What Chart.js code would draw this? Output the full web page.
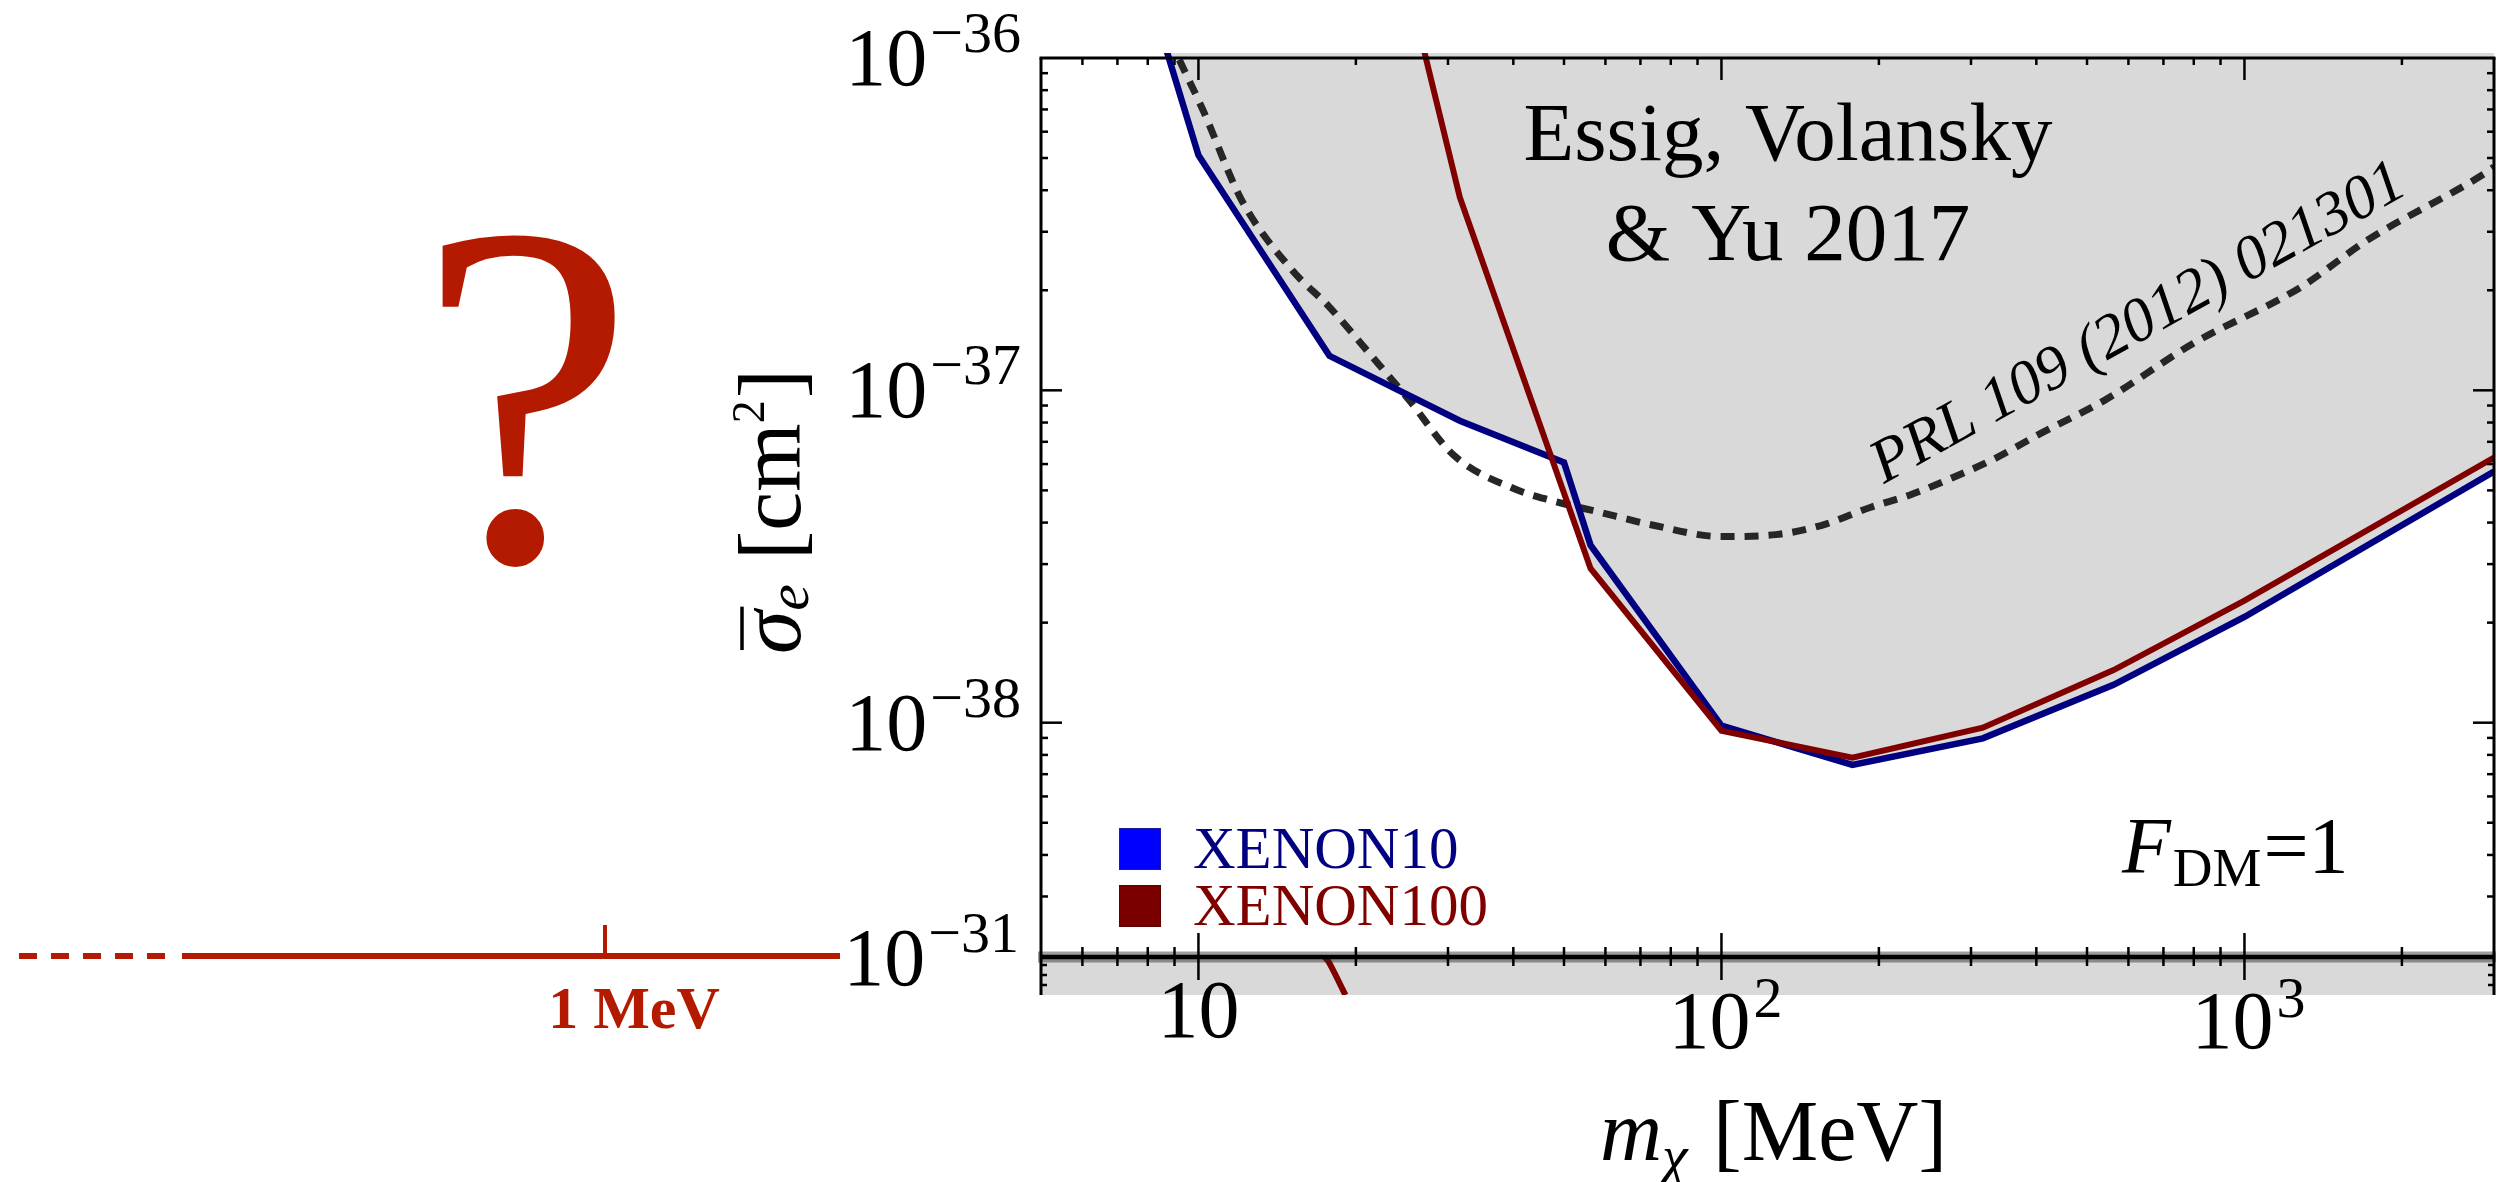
<!DOCTYPE html>
<html>
<head>
<meta charset="utf-8">
<script src="https://cdn.jsdelivr.net/npm/chart.js@4.4.1/dist/chart.umd.min.js"></script>
<style>
  html, body { margin: 0; padding: 0; background: #fff; }
  canvas { display: block; }
</style>
</head>
<body>
<canvas id="plot" width="2504" height="1182"></canvas>
<script>
// XENON10 limit: dark matter mass [MeV] vs cross section [cm^2]
const massXe10 = [5.62, 10, 17.8, 31.6, 50, 56.2, 100, 178, 316, 562, 1000, 3000];
const sigmaXe10 = [1.0e-35, 5.1e-37, 1.27e-37, 8.1e-38, 6.07e-38, 3.42e-38, 9.8e-39, 7.46e-39, 8.97e-39, 1.30e-38, 2.08e-38, 5.70e-38];

// XENON100 limit
const massXe100 = [17.8, 31.6, 56.2, 100, 178, 316, 562, 1000, 3000];
const sigmaXe100 = [1.55e-35, 3.81e-37, 2.91e-38, 9.46e-39, 7.85e-39, 9.66e-39, 1.44e-38, 2.33e-38, 6.28e-38];

// XENON100 piece visible in the lower 10^-31 strip
const massXe100Strip = [17.3, 17.75, 19.1];
const sigmaXe100Strip = [1.0e-31, 0.93e-31, 0.6e-31];

// older limit, PRL 109 (2012) 021301
const massPrl = [8.8, 9.16, 10.2, 12.1, 15.1, 17.8, 21.8, 25.3, 30.8, 40.5, 47.3, 57.7, 74.5, 100, 127, 155, 193, 230, 272, 331, 407, 540, 799, 1279, 1718, 2891, 3000];
const sigmaPrl = [1.15e-36, 1.0e-36, 6.97e-37, 3.73e-37, 2.30e-37, 1.78e-37, 1.23e-37, 9.33e-38, 6.37e-38, 5.03e-38, 4.66e-38, 4.32e-38, 3.92e-38, 3.63e-38, 3.68e-38, 3.92e-38, 4.45e-38, 4.85e-38, 5.4e-38, 6.2e-38, 7.41e-38, 9.33e-38, 1.385e-37, 2.04e-37, 2.83e-37, 4.51e-37, 4.7e-37];

const xTicksMajor = [10, 100, 1000];
const yTicksMain = [1e-36, 1e-37, 1e-38];
const yTickStrip = 1e-31;
const stripMinor = [7e-32, 8e-32, 9e-32];
const legendLabels = ["XENON10", "XENON100"];

const SERIF = '"Liberation Serif", "Times New Roman", serif';
const GRAY = "#d9d9d9";
const NAVY = "#000080";
const MAROON = "#800000";
const ACCENT = "#b41a00";

function xy(xs, ys) { return xs.map((x, i) => ({ x: x, y: ys[i] })); }

function seg(ctx, x1, y1, x2, y2) {
  ctx.beginPath();
  ctx.moveTo(x1, y1);
  ctx.lineTo(x2, y2);
  ctx.stroke();
}

function runsWidth(ctx, parts) {
  let w = 0;
  for (const p of parts) { ctx.font = p.font; w += ctx.measureText(p.t).width + (p.gap || 0); }
  return w;
}

function drawRuns(ctx, x, y, parts) {
  let cx = x;
  for (const p of parts) {
    ctx.font = p.font;
    ctx.fillText(p.t, cx, y + (p.dy || 0));
    cx += ctx.measureText(p.t).width + (p.gap || 0);
  }
  return cx;
}

function powParts(exp, big, small, rise) {
  const e = exp < 0 ? "\u2212" + Math.abs(exp) : String(exp);
  return [{ t: "10", font: big, gap: 3 }, { t: e, font: small, dy: -rise }];
}

const decor = {
  id: "decor",
  beforeDatasetsDraw(chart) {
    const { ctx, chartArea, scales } = chart;
    const yb = scales.yb;
    ctx.save();
    ctx.fillStyle = GRAY;
    ctx.fillRect(chartArea.left, yb.top, chartArea.right - chartArea.left, yb.bottom - yb.top);
    ctx.restore();
  },
  afterDatasetsDraw(chart) {
    const { ctx, chartArea, scales } = chart;
    const x = scales.x, y = scales.y, yb = scales.yb;
    const L = chartArea.left, R = chartArea.right;
    const T = y.getPixelForValue(yTicksMain[0]);
    const B = yb.top;
    const SB = yb.bottom;
    ctx.save();
    ctx.lineCap = "butt";

    // break line between panels
    ctx.strokeStyle = "rgba(40,40,40,0.45)";
    ctx.lineWidth = 11;
    seg(ctx, L - 3, B + 2, R + 2, B + 2);
    ctx.strokeStyle = "#000";
    ctx.lineWidth = 4.5;
    seg(ctx, L, B + 2, R, B + 2);

    // x ticks (top frame and break line)
    ctx.lineWidth = 2.5;
    for (let e = 0; e <= 3; e++) {
      for (let d = 1; d <= 9; d++) {
        const v = d * Math.pow(10, e);
        if (v <= x.min * 1.001 || v >= x.max * 0.999) continue;
        const px = x.getPixelForValue(v);
        const major = d === 1;
        seg(ctx, px, T, px, T + (major ? 22 : 7));
        seg(ctx, px, B - (major ? 22 : 8), px, B + (major ? 25 : 11));
      }
    }

    // y ticks, main panel
    for (let e = -39; e <= -37; e++) {
      for (let d = 1; d <= 9; d++) {
        const v = d * Math.pow(10, e);
        if (v <= y.min * 1.01 || v >= yTicksMain[0] * 0.99) continue;
        const py = y.getPixelForValue(v);
        const len = d === 1 ? 21 : 7;
        seg(ctx, L, py, L + len, py);
        seg(ctx, R, py, R - len, py);
      }
    }
    // y ticks, strip
    for (const v of stripMinor) {
      const py = yb.getPixelForValue(v);
      seg(ctx, L, py, L + 6, py);
      seg(ctx, R, py, R - 6, py);
    }

    // frame
    ctx.lineWidth = 3;
    seg(ctx, L - 1.5, T, R + 1.5, T);
    seg(ctx, L, T, L, SB);
    seg(ctx, R, T, R, SB);
    ctx.restore();
  },
  afterDraw(chart) {
    const { ctx, chartArea, scales } = chart;
    const x = scales.x, y = scales.y, yb = scales.yb;
    const L = chartArea.left, R = chartArea.right;
    const T = y.getPixelForValue(yTicksMain[0]);
    const B = yb.top;
    const big = `82px ${SERIF}`;
    const small = `58px ${SERIF}`;
    ctx.save();
    ctx.fillStyle = "#000";
    ctx.textAlign = "left";
    ctx.textBaseline = "alphabetic";

    // y tick labels
    for (const v of yTicksMain) {
      const parts = powParts(Math.round(Math.log10(v)), big, small, 33);
      const w = runsWidth(ctx, parts);
      drawRuns(ctx, L - 20 - w, y.getPixelForValue(v) + 27, parts);
    }
    {
      const parts = powParts(Math.round(Math.log10(yTickStrip)), big, small, 33);
      const w = runsWidth(ctx, parts);
      drawRuns(ctx, L - 22 - w, yb.getPixelForValue(yTickStrip) + 30, parts);
    }

    // x tick labels
    for (const v of xTicksMajor) {
      const exp = Math.round(Math.log10(v));
      const px = x.getPixelForValue(v);
      if (exp === 1) {
        const parts = [{ t: "10", font: big }];
        drawRuns(ctx, px - runsWidth(ctx, parts) / 2, B + 82, parts);
      } else {
        const parts = powParts(exp, big, small, 31);
        drawRuns(ctx, px + 4 - runsWidth(ctx, parts) / 2, B + 93, parts);
      }
    }

    // x title
    {
      const parts = [
        { t: "m", font: `italic 86px ${SERIF}` },
        { t: "\u03C7", font: `italic 58px ${SERIF}`, dy: 15, gap: 4 },
        { t: " [MeV]", font: `86px ${SERIF}` }
      ];
      const w = runsWidth(ctx, parts);
      drawRuns(ctx, (L + R) / 2 - w / 2 + 6, 1160, parts);
    }

    // y title (rotated)
    {
      const sig = { t: "\u03C3", font: `italic 88px ${SERIF}` };
      const parts = [
        sig,
        { t: "e", font: `italic 60px ${SERIF}`, dy: 8, gap: 2 },
        { t: " [cm", font: `88px ${SERIF}` },
        { t: "2", font: `46px ${SERIF}`, dy: -36, gap: 2 },
        { t: "]", font: `88px ${SERIF}` }
      ];
      const w = runsWidth(ctx, parts);
      const cy = (T + B) / 2 + 5;
      ctx.save();
      ctx.translate(800, 0);
      ctx.rotate(-Math.PI / 2);
      const lx = -(cy + w / 2);
      drawRuns(ctx, lx, 0, parts);
      ctx.font = sig.font;
      const sw = ctx.measureText(sig.t).width;
      ctx.strokeStyle = "#000";
      ctx.lineWidth = 3.5;
      seg(ctx, lx + 4, -58, lx + sw + 4, -58);
      ctx.restore();
    }

    // annotation: paper
    ctx.font = `83px ${SERIF}`;
    ctx.textAlign = "center";
    ctx.fillText("Essig, Volansky", 1788, 160);
    ctx.fillText("& Yu 2017", 1788, 260);
    ctx.textAlign = "left";

    // annotation: old limit label along the dotted curve
    ctx.save();
    ctx.translate(1884, 484);
    ctx.rotate(-29 * Math.PI / 180);
    ctx.font = `italic 62px ${SERIF}`;
    ctx.fillText("PRL 109 (2012) 021301", 0, 0);
    ctx.restore();

    // F_DM = 1
    drawRuns(ctx, 2122, 873, [
      { t: "F", font: `italic 80px ${SERIF}`, gap: 2 },
      { t: "DM", font: `55px ${SERIF}`, dy: 13, gap: 2 },
      { t: "=1", font: `80px ${SERIF}` }
    ]);

    // legend
    const swatch = ["#0000ff", "#7a0000"];
    const textCol = [NAVY, MAROON];
    ctx.font = `59px ${SERIF}`;
    legendLabels.forEach((lab, i) => {
      const top = 828 + i * 57;
      ctx.fillStyle = swatch[i];
      ctx.fillRect(1119, top, 42, 42);
      ctx.strokeStyle = i === 0 ? "#1c1ca0" : "#5a0000";
      ctx.lineWidth = 1;
      ctx.strokeRect(1119.5, top + 0.5, 41, 41);
      ctx.fillStyle = textCol[i];
      ctx.fillText(lab, 1193, top + 40);
    });

    // left panel: the unexplored sub-MeV axis
    const ya = B + 1;
    ctx.strokeStyle = ACCENT;
    ctx.lineWidth = 6;
    ctx.setLineDash([18, 14]);
    seg(ctx, 19, ya, 168, ya);
    ctx.setLineDash([]);
    seg(ctx, 182, ya, 840, ya);
    ctx.lineWidth = 4;
    seg(ctx, 605, ya - 31, 605, ya);
    ctx.fillStyle = ACCENT;
    ctx.textAlign = "center";
    ctx.font = `bold 60px ${SERIF}`;
    ctx.fillText("1 MeV", 634, ya + 72);
    ctx.font = `490px ${SERIF}`;
    ctx.fillText("?", 526, 560);
    ctx.restore();
  }
};

Chart.defaults.font.family = SERIF;

const hidden = {
  ticks: { display: false },
  grid: { display: false, drawTicks: false },
  border: { display: false },
  title: { display: false }
};

new Chart(document.getElementById("plot").getContext("2d"), {
  type: "line",
  data: {
    datasets: [
      {
        label: legendLabels[1],
        data: xy(massXe100, sigmaXe100),
        yAxisID: "y",
        borderColor: MAROON,
        backgroundColor: GRAY,
        borderWidth: 6,
        borderJoinStyle: "miter",
        fill: "end",
        pointRadius: 0,
        tension: 0,
        order: 0
      },
      {
        label: legendLabels[1] + " strip",
        data: xy(massXe100Strip, sigmaXe100Strip),
        yAxisID: "yb",
        borderColor: MAROON,
        borderWidth: 6,
        fill: false,
        pointRadius: 0,
        tension: 0.3,
        order: 0
      },
      {
        label: legendLabels[0],
        data: xy(massXe10, sigmaXe10),
        yAxisID: "y",
        borderColor: NAVY,
        backgroundColor: GRAY,
        borderWidth: 6.5,
        borderJoinStyle: "miter",
        fill: "end",
        pointRadius: 0,
        tension: 0,
        order: 1
      },
      {
        label: "PRL 109 (2012) 021301",
        data: xy(massPrl, sigmaPrl),
        yAxisID: "y",
        borderColor: "#262626",
        borderWidth: 7,
        borderDash: [14, 10],
        borderCapStyle: "butt",
        fill: false,
        pointRadius: 0,
        cubicInterpolationMode: "monotone",
        order: 2
      }
    ]
  },
  options: {
    responsive: false,
    animation: false,
    devicePixelRatio: 1,
    layout: { padding: { left: 1041, right: 10, top: 53, bottom: 187 } },
    scales: {
      x: { type: "logarithmic", min: 5, max: 3000, position: "bottom", ...hidden },
      y: { type: "logarithmic", min: 2e-39, max: 1.035e-36, position: "left", stack: "sigma", stackWeight: 902, weight: 1, ...hidden },
      yb: { type: "linear", min: 6e-32, max: 1e-31, position: "left", stack: "sigma", stackWeight: 40, weight: 0, ...hidden }
    },
    plugins: {
      legend: { display: false },
      tooltip: { enabled: false },
      filler: { drawTime: "beforeDatasetsDraw" }
    }
  },
  plugins: [decor]
});
</script>
</body>
</html>
